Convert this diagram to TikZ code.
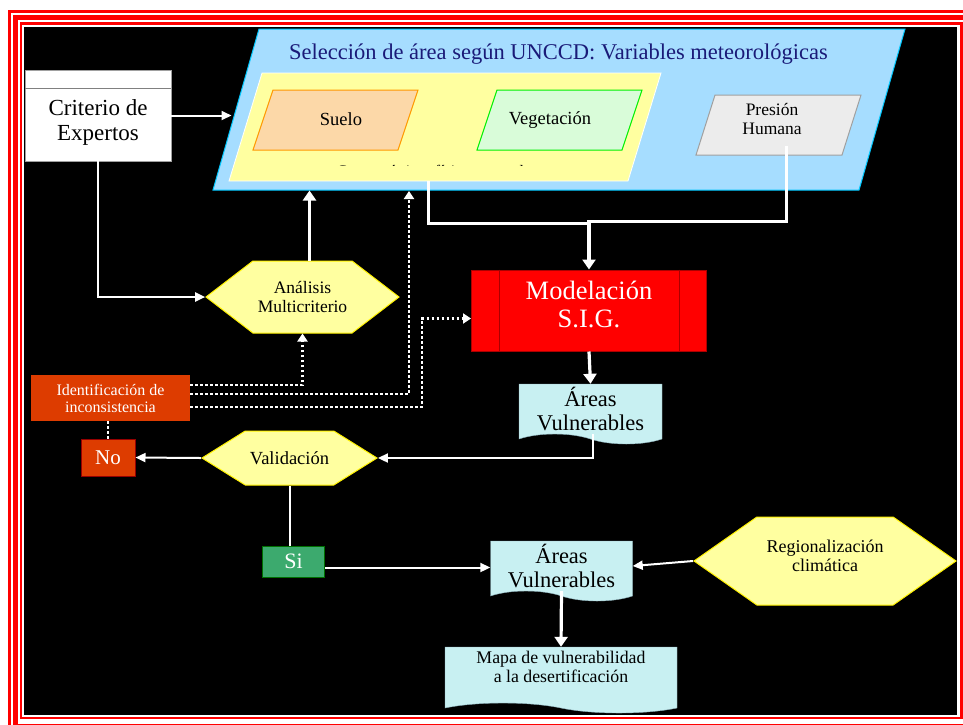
\documentclass[tikz,border=0pt]{standalone}
\usepackage{fontspec}
\setmainfont{Liberation Serif}
\usetikzlibrary{shapes.symbols,arrows.meta}
\definecolor{skyfill}{RGB}{166,221,255}
\definecolor{skyline}{RGB}{0,200,255}
\definecolor{yelfill}{RGB}{255,255,160}
\definecolor{soilfill}{RGB}{252,216,168}
\definecolor{soilline}{RGB}{255,153,0}
\definecolor{vegfill}{RGB}{217,252,217}
\definecolor{vegline}{RGB}{0,240,0}
\definecolor{prefill}{RGB}{236,236,236}
\definecolor{preline}{RGB}{160,160,160}
\definecolor{titlecol}{RGB}{26,26,120}
\definecolor{idefill}{RGB}{221,60,0}
\definecolor{noline}{RGB}{150,0,0}
\definecolor{sifill}{RGB}{60,170,110}
\definecolor{siline}{RGB}{0,110,0}
\definecolor{modline}{RGB}{170,0,0}
\definecolor{docfill}{RGB}{200,240,242}
\definecolor{docline}{RGB}{140,175,185}
\newcommand{\fs}[1]{\fontsize{#1}{1.07\dimexpr#1\relax}\selectfont}

\begin{document}
\begin{tikzpicture}[x=1pt,y=-1pt,
  slantbox/.style={rectangle, xslant=#1, transform shape, inner sep=0pt},
  hexa/.style={signal, signal to=east and west, signal pointer angle=#1,
    fill=yelfill, draw=yellow, line width=1pt, inner sep=0pt, align=center, font=\fs{18pt}},
  redbox/.style={rectangle, fill=idefill, text=white, inner sep=0pt, align=center},
  docbox/.style={tape, tape bend top=none, tape bend bottom=out and in, tape bend height=10pt,
    fill=docfill, draw=docline, inner sep=0pt, align=center},
  wline/.style={draw=white, line width=2pt},
  warrow/.style={wline, -{Triangle[width=9pt,length=10pt]}},
  wthick/.style={draw=white, line width=3.2pt, -{Triangle[width=13pt,length=10pt]}},
  wdots/.style={draw=white, line width=2.5pt, dash pattern=on 2.5pt off 2.5pt, -{Triangle[width=10pt,length=8pt]}}
]
\clip (0,0) rectangle (963,724);
% marco
\fill[white] (0,0) rectangle (963,724);
\draw[red, line width=3pt] (9,11.5) rectangle (973,730);
\draw[red, line width=5pt] (15,17.8) rectangle (967.5,726.5);
\draw[red, line width=2.5pt] (21,23.7) rectangle (961.5,718);
\fill[black] (24,26.5) rectangle (957,715);

% seleccion de area
\node[slantbox=0.2857, fill=skyfill, draw=skyline, line width=1pt,
  minimum width=646pt, minimum height=161pt] (big) at (559,109.5) {};
\node[font=\fs{22.5pt}, text=titlecol] (title) at (558.5,54) {Selección de área según UNCCD: Variables meteorológicas};
\node[slantbox=0.3056, fill=yelfill, draw=white, line width=0.8pt,
  minimum width=399pt, minimum height=108pt] (yel) at (445,127) {};
\begin{scope}
  \clip (230,150) rectangle (640,165.5);
  \node[font=\fs{16pt}] (carac) at (437,171) {Características físicas naturales};
\end{scope}
\node[slantbox=0.3333, fill=soilfill, draw=soilline, line width=1pt,
  minimum width=145pt, minimum height=60pt] (suelo) at (335.5,120) {};
\node[font=\fs{18.5pt}] (suelotext) at (341,119) {Suelo};
\node[slantbox=0.3333, fill=vegfill, draw=vegline, line width=1pt,
  minimum width=145pt, minimum height=60pt] (veg) at (559.5,120) {};
\node[font=\fs{18.5pt}] (vegtext) at (550,120) {Vegetación};
\node[slantbox=0.3167, fill=prefill, draw=preline, line width=1pt,
  minimum width=146pt, minimum height=60pt] (pre) at (778.5,125) {};
\node[font=\fs{17.5pt}, align=center] (pretext) at (772,119) {Presión\\Humana};

% criterio
\node[rectangle, fill=white, draw=preline, minimum width=146pt, minimum height=91pt,
  label={[name=critext, yshift=-7pt, font=\fs{23pt}, align=center]center:Criterio de\\Expertos}] (crit) at (98,115.5) {};
\draw[gray] ([yshift=-18pt]crit.north west) -- ([yshift=-18pt]crit.north east);

% procesos
\node[hexa=75, minimum width=193pt, minimum height=72pt, font=\fs{17.5pt}] (ana) at (302.5,297) {Análisis\\Multicriterio};
\node[redbox, minimum width=159pt, minimum height=46pt, font=\fs{16pt}] (ide) at (110.5,398) {Identificación de\\inconsistencia};
\node[redbox, draw=noline, line width=1pt, minimum width=54pt, minimum height=37pt, font=\fs{21pt}] (no) at (108,457.5) {No};
\node[hexa=64, minimum width=175pt, minimum height=54pt, font=\fs{18.5pt}] (val) at (289.5,458) {Validación};
\node[rectangle, fill=sifill, draw=siline, line width=1pt, text=white,
  minimum width=62pt, minimum height=31pt, font=\fs{22pt}] (si) at (293.5,561.5) {Si};
\node[rectangle, fill=red, draw=modline, line width=1pt,
  minimum width=235pt, minimum height=81pt,
  label={[name=modtext, yshift=6pt, text=white, align=center, font=\fs{26.5pt}]center:Modelación\\S.I.G.}] (mod) at (589,310.5) {};
\draw[modline, line width=1pt] ([xshift=28pt]mod.north west) -- ([xshift=28pt]mod.south west);
\draw[modline, line width=1pt] ([xshift=-28pt]mod.north east) -- ([xshift=-28pt]mod.south east);
\node[docbox, minimum width=143pt, minimum height=60pt, font=\fs{22.5pt}] (ar1) at (590.5,409) {Áreas\\Vulnerables};
\node[docbox, minimum width=142pt, minimum height=60pt, font=\fs{22.5pt}] (ar2) at (561.5,566) {Áreas\\Vulnerables};
\node[hexa=70, minimum width=262pt, minimum height=88pt,
  label={[name=regtext, yshift=5pt, align=center, font=\fs{18pt}]center:Regionalización\\climática}] (reg) at (825,561) {};
\node[docbox, minimum width=232pt, minimum height=66pt,
  label={[name=mapatext, yshift=8pt, align=center, font=\fs{17.8pt}]center:Mapa de vulnerabilidad\\a la desertificación}] (mapa) at (561,675) {};

% conectores
\coordinate (dotin) at (409,191);
\draw[warrow, shorten >=4pt] (crit.east) -- (crit.east -| big.west);
\draw[warrow] (crit.south) |- (ana.west);
\draw[wthick] ([xshift=7pt]ana.north) -- ([xshift=7pt]ana.north |- big.south);
\draw[wdots] ([yshift=13pt]ide.east) -| (ana.south);
\draw[wdots] ([yshift=4pt]ide.east) -| (dotin);
\draw[wdots] ([yshift=-9pt]ide.east) -| ([xshift=-49pt,yshift=-8pt]mod.west) -- ([yshift=-8pt]mod.west);
\draw[white, line width=2.5pt, dash pattern=on 2.5pt off 2.5pt] (no.north |- ide.south) -- (no.north);
\draw[wthick, -] (yel.south) |- ([yshift=46pt]mod.north);
\draw[wthick] ([xshift=18pt,yshift=10pt]pre.south) |- ([yshift=48pt]mod.north) -- (mod.north);
\draw[wthick] (mod.south) -- (ar1.north);
\draw[warrow] ([xshift=2pt]ar1.south) |- (val.east);
\draw[warrow] (val.west) -- (no.east);
\draw[wline] (val.south) -- (val.south |- si.north);
\draw[warrow] ([yshift=-6pt]si.east) -- ([yshift=-6pt]si.east -| ar2.west);
\draw[warrow] (reg.west) -- (ar2.east);
\draw[wthick] (ar2.south) -- (mapa.north);
\end{tikzpicture}
\end{document}
